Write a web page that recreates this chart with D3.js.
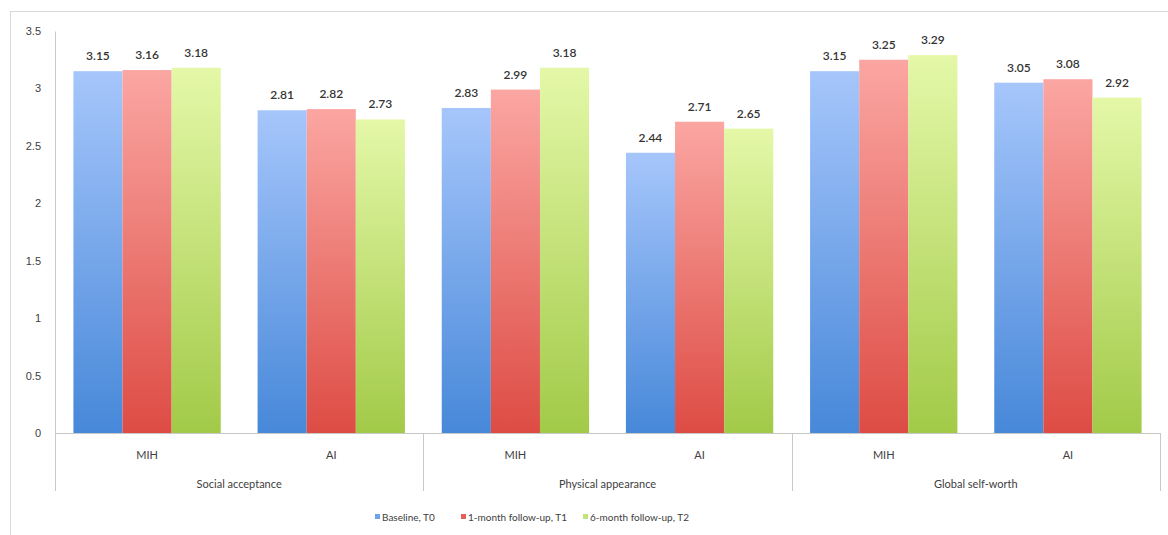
<!DOCTYPE html>
<html>
<head>
<meta charset="utf-8">
<script src="https://cdn.jsdelivr.net/npm/d3@7"></script>
<style>
  html, body { margin: 0; padding: 0; background: #fff; }
  svg { display: block; font-family: Lato, "Open Sans", sans-serif; }
</style>
</head>
<body>
<svg id="chart" width="1168" height="535"></svg>
<script>
// Self-perception domains, each split into two groups
const domains = ["Social acceptance", "Physical appearance", "Global self-worth"];
const groups = ["MIH", "AI"];
const seriesNames = ["Baseline, T0", "1-month follow-up, T1", "6-month follow-up, T2"];

// Mean scores, one array per time point, ordered domain by domain (MIH, AI)
const baselineT0 = [3.15, 2.81, 2.83, 2.44, 3.15, 3.05];
const followUpT1 = [3.16, 2.82, 2.99, 2.71, 3.25, 3.08];
const followUpT2 = [3.18, 2.73, 3.18, 2.65, 3.29, 2.92];

const yTicks = [0, 0.5, 1, 1.5, 2, 2.5, 3, 3.5];
const yTickLabels = ["0", "0.5", "1", "1.5", "2", "2.5", "3", "3.5"];

// Light top / saturated bottom for each series
const gradientStops = [
  ["#a6c6fb", "#4788d9"],
  ["#fba6a2", "#dd4c44"],
  ["#e4f8a8", "#a2ca48"]
];
const legendSwatch = ["#6fa3e8", "#e5605a", "#c2e27c"];

const seriesValues = [baselineT0, followUpT1, followUpT2];

const svg = d3.select("#chart");
const W = 1168, H = 535;
const plot = { left: 55, right: 1160, top: 31, bottom: 433 };

// Chart frame
svg.append("rect")
  .attr("x", 10.5).attr("y", 11.5)
  .attr("width", W).attr("height", H)
  .attr("fill", "#fff").attr("stroke", "#d9d9d9");

// Gradients
const defs = svg.append("defs");
gradientStops.forEach((c, i) => {
  const g = defs.append("linearGradient")
    .attr("id", "grad" + i)
    .attr("x1", 0).attr("y1", 0).attr("x2", 0).attr("y2", 1);
  g.append("stop").attr("offset", "0%").attr("stop-color", c[0]);
  g.append("stop").attr("offset", "100%").attr("stop-color", c[1]);
});

// Categories: one slot per (domain, group)
const slots = [];
domains.forEach(d => groups.forEach(g => slots.push({ domain: d, group: g, key: d + "|" + g })));

const x0 = d3.scaleBand()
  .domain(slots.map(s => s.key))
  .range([plot.left, plot.right])
  .paddingInner(0.2)
  .paddingOuter(0.1);

const x1 = d3.scaleBand()
  .domain(d3.range(seriesNames.length))
  .range([0, x0.bandwidth()]);

const y = d3.scaleLinear().domain([0, 3.5]).range([plot.bottom, plot.top]);

// Y axis
const yAxis = d3.axisLeft(y)
  .tickValues(yTicks)
  .tickFormat((d, i) => yTickLabels[i])
  .tickSize(0)
  .tickPadding(14);
const yg = svg.append("g").attr("transform", `translate(${plot.left},0)`).call(yAxis);
yg.select(".domain").attr("stroke", "#c8c8c8");
yg.selectAll("text").attr("font-size", 11).attr("fill", "#404040");

// Bars
const barData = [];
slots.forEach((s, ci) => {
  seriesValues.forEach((vals, si) => {
    barData.push({ key: s.key, series: si, value: vals[ci] });
  });
});

svg.append("g").selectAll("rect")
  .data(barData)
  .join("rect")
  .attr("x", d => x0(d.key) + x1(d.series))
  .attr("y", d => y(d.value))
  .attr("width", x1.bandwidth())
  .attr("height", d => y(0) - y(d.value))
  .attr("fill", d => `url(#grad${d.series})`);

// Value labels
svg.append("g").selectAll("text")
  .data(barData)
  .join("text")
  .attr("x", d => x0(d.key) + x1(d.series) + x1.bandwidth() / 2)
  .attr("y", d => y(d.value) - 11)
  .attr("text-anchor", "middle")
  .attr("font-size", 12)
  .attr("font-weight", 600)
  .attr("fill", "#333")
  .text(d => d.value.toFixed(2));

// Category axis line
svg.append("line")
  .attr("x1", plot.left).attr("x2", plot.right)
  .attr("y1", plot.bottom + 0.5).attr("y2", plot.bottom + 0.5)
  .attr("stroke", "#c8c8c8");

// Domain separators
const domainStep = (plot.right - plot.left) / domains.length;
d3.range(domains.length + 1).forEach(i => {
  const xx = Math.round(plot.left + i * domainStep) + 0.5;
  svg.append("line")
    .attr("x1", xx).attr("x2", xx)
    .attr("y1", plot.bottom).attr("y2", 491)
    .attr("stroke", "#c8c8c8");
});

// Group labels
svg.append("g").selectAll("text")
  .data(slots)
  .join("text")
  .attr("x", s => x0(s.key) + x0.bandwidth() / 2)
  .attr("y", 459)
  .attr("text-anchor", "middle")
  .attr("font-size", 11)
  .attr("fill", "#404040")
  .text(s => s.group);

// Domain labels
svg.append("g").selectAll("text")
  .data(domains)
  .join("text")
  .attr("x", (d, i) => plot.left + (i + 0.5) * domainStep)
  .attr("y", 488)
  .attr("text-anchor", "middle")
  .attr("font-size", 11)
  .attr("fill", "#404040")
  .text(d => d);

// Legend
const legendX = [375, 461, 583];
const legend = svg.append("g").selectAll("g")
  .data(seriesNames)
  .join("g")
  .attr("transform", (d, i) => `translate(${legendX[i]},521)`);
legend.append("rect")
  .attr("x", 0).attr("y", -7)
  .attr("width", 5).attr("height", 5)
  .attr("fill", (d, i) => legendSwatch[i]);
legend.append("text")
  .attr("x", 7).attr("y", 0)
  .attr("font-size", 10)
  .attr("fill", "#404040")
  .text(d => d);
</script>
</body>
</html>
